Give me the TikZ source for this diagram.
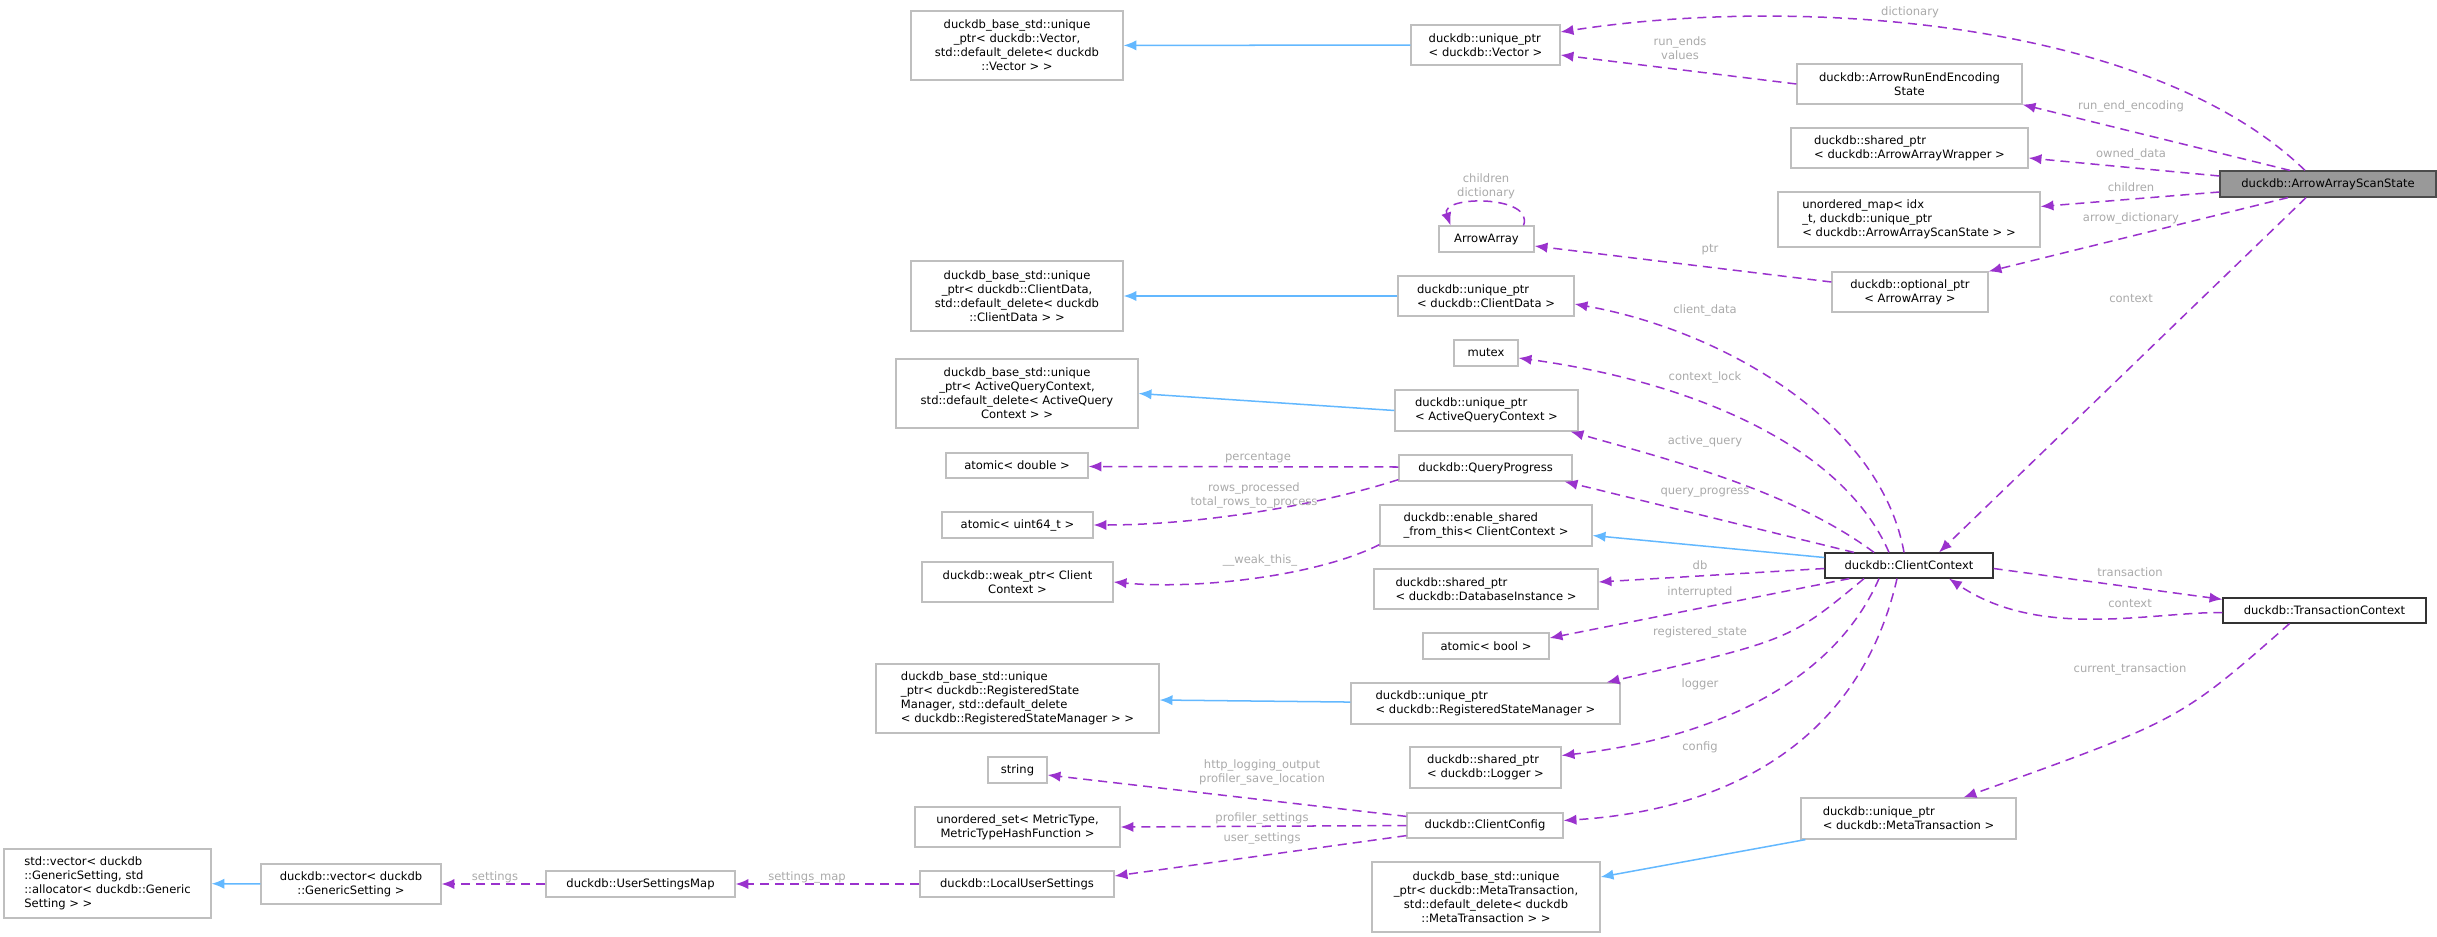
\documentclass[tikz,border=0pt]{standalone}
\usepackage{fontspec}
\setmainfont{DejaVu Sans}
\usetikzlibrary{arrows.meta}
\usetikzlibrary{calc}
\usetikzlibrary{positioning}

\begin{document}
\begin{tikzpicture}[x=0.035cm,y=-0.035cm,
    box/.style={draw=edgegray,fill=white,line width=1.2pt,inner sep=1pt,
      font=\fontsize{11.5}{14}\selectfont,align=center},
    sz/.style 2 args={minimum width=#1*0.035cm,minimum height=#2*0.035cm},
    member/.style={draw=mpurple,line width=1.5pt,dash pattern=on 9pt off 6pt,
      -{Latex[length=4.5mm,width=3.6mm]}},
    inherit/.style={draw=lblue,line width=1.5pt,-{Latex[length=4.5mm,width=3.6mm]}},
    lbl/.style={text=lgray,font=\fontsize{11.5}{14}\selectfont,align=center}]

\definecolor{edgegray}{RGB}{191,191,191}
\definecolor{mpurple}{RGB}{154,50,205}
\definecolor{lblue}{RGB}{99,184,255}
\definecolor{lgray}{RGB}{170,170,170}
\definecolor{sgray}{RGB}{153,153,153}

\useasboundingbox (0,0) rectangle (2437,937);

% right column
\node[box,sz={216}{26},fill=sgray,draw=black!70] (ass) at (2328,184) {duckdb::ArrowArrayScanState};
\node[box,sz={225}{40}] (ree) at (1909.5,84) {duckdb::ArrowRunEndEncoding\\State};
\node[box,sz={237}{40},align=left] (aaw) at (1909.5,148) {duckdb::shared\_ptr\\< duckdb::ArrowArrayWrapper >};
\node[box,sz={262}{55},align=left] (umap) at (1909,219.5) {unordered\_map< idx\\\_t, duckdb::unique\_ptr\\< duckdb::ArrowArrayScanState > >};
\node[box,sz={156}{40}] (optaa) at (1910,292) {duckdb::optional\_ptr\\< ArrowArray >};
\node[box,sz={168}{25},draw=black!80] (cc) at (1909,565.5) {duckdb::ClientContext};
\node[box,sz={203}{25},draw=black!80] (tc) at (2324.5,610.5) {duckdb::TransactionContext};
\node[box,sz={215}{41},align=left] (uptrmt) at (1908.5,818.5) {duckdb::unique\_ptr\\< duckdb::MetaTransaction >};

% middle column
\node[box,sz={149}{40},align=left] (uptrvec) at (1485.5,45) {duckdb::unique\_ptr\\< duckdb::Vector >};
\node[box,sz={95}{26}] (aa) at (1486.5,239) {ArrowArray};
\node[box,sz={176}{40},align=left] (uptrcd) at (1486,296) {duckdb::unique\_ptr\\< duckdb::ClientData >};
\node[box,sz={64}{26}] (mutex) at (1486,353) {mutex};
\node[box,sz={183}{41},align=left] (uptraqc) at (1486.5,410.5) {duckdb::unique\_ptr\\< ActiveQueryContext >};
\node[box,sz={173}{26}] (qp) at (1485.5,468) {duckdb::QueryProgress};
\node[box,sz={212}{41},align=left] (enshared) at (1486,525.5) {duckdb::enable\_shared\\\_from\_this< ClientContext >};
\node[box,sz={224}{40},align=left] (shdb) at (1486,589) {duckdb::shared\_ptr\\< duckdb::DatabaseInstance >};
\node[box,sz={126}{26}] (abool) at (1486,646) {atomic< bool >};
\node[box,sz={269}{41},align=left] (uptrrsm) at (1485.5,703.5) {duckdb::unique\_ptr\\< duckdb::RegisteredStateManager >};
\node[box,sz={151}{41},align=left] (shlog) at (1485.5,767.5) {duckdb::shared\_ptr\\< duckdb::Logger >};
\node[box,sz={156}{25}] (ccfg) at (1485,825.5) {duckdb::ClientConfig};
\node[box,sz={228}{70}] (basemt) at (1486,897) {duckdb\_base\_std::unique\\\_ptr< duckdb::MetaTransaction,\\std::default\_delete< duckdb\\::MetaTransaction > >};

% left column
\node[box,sz={212}{69}] (basevec) at (1017,45.5) {duckdb\_base\_std::unique\\\_ptr< duckdb::Vector,\\ std::default\_delete< duckdb\\::Vector > >};
\node[box,sz={212}{70}] (basecd) at (1017,296) {duckdb\_base\_std::unique\\\_ptr< duckdb::ClientData,\\ std::default\_delete< duckdb\\::ClientData > >};
\node[box,sz={242}{69}] (baseaqc) at (1017,393.5) {duckdb\_base\_std::unique\\\_ptr< ActiveQueryContext,\\ std::default\_delete< ActiveQuery\\Context > >};
\node[box,sz={142}{25}] (adouble) at (1017,465.5) {atomic< double >};
\node[box,sz={151}{26}] (au64) at (1017.5,525) {atomic< uint64\_t >};
\node[box,sz={191}{40}] (weak) at (1017.5,582) {duckdb::weak\_ptr< Client\\Context >};
\node[box,sz={283}{69},align=left] (basersm) at (1017.5,698.5) {duckdb\_base\_std::unique\\\_ptr< duckdb::RegisteredState\\Manager, std::default\_delete\\< duckdb::RegisteredStateManager > >};
\node[box,sz={59}{26}] (str) at (1017.5,770) {string};
\node[box,sz={205}{40}] (uset) at (1017.5,827) {unordered\_set< MetricType,\\ MetricTypeHashFunction >};
\node[box,sz={194}{26}] (lus) at (1017,884) {duckdb::LocalUserSettings};
\node[box,sz={189}{26}] (usm) at (640.5,884) {duckdb::UserSettingsMap};
\node[box,sz={180}{40}] (vecgs) at (351,884) {duckdb::vector< duckdb\\::GenericSetting >};
\node[box,sz={207}{69},align=left] (stdvec) at (107.5,883.5) {std::vector< duckdb\\::GenericSetting, std\\::allocator< duckdb::Generic\\Setting > >};

% inheritance
\draw[inherit] (uptrvec) -- (basevec);
\draw[inherit] (uptrcd) -- (basecd);
\draw[inherit] (uptraqc.west) -- (baseaqc.east);
\draw[inherit] ($(cc.west)+(0,-8)$) -- ($(enshared.east)+(0,10)$);
\draw[inherit] (uptrrsm) -- (basersm);
\draw[inherit] ($(uptrmt.south west)+(5,0)$) -- ($(basemt.east)+(0,-20)$);
\draw[inherit] (vecgs) -- (stdvec);

% members of ArrowArrayScanState
\draw[member] ($(ass.north)+(-23,0)$) .. controls (2150,20) and (1800,-5) .. ($(uptrvec.east)+(0,-13)$)
  node[lbl] at (1910,12) {dictionary};
\draw[member] (ree.west) -- ($(uptrvec.east)+(0,10)$)
  node[lbl] at (1680,48) {run\_ends\\values};
\draw[member] ($(ass.north)+(-38,0)$) -- (ree.south east)
  node[lbl] at (2131,106) {run\_end\_encoding};
\draw[member] ($(ass.west)+(0,-8)$) -- ($(aaw.east)+(0,10)$)
  node[lbl] at (2131,154) {owned\_data};
\draw[member] ($(ass.west)+(0,8)$) -- ($(umap.east)+(0,-13)$)
  node[lbl] at (2131,187) {children};
\draw[member] ($(ass.south)+(-40,0)$) -- (optaa.north east)
  node[lbl] at (2131,218) {arrow\_dictionary};
\draw[member] ($(ass.south)+(-22,0)$) -- ($(cc.north)+(30,0)$)
  node[lbl] at (2131,299) {context};
\draw[member] ($(aa.north)+(37,0)$) .. controls (1535,195) and (1440,195) .. ($(aa.north)+(-36,0)$)
  node[lbl] at (1486,186) {children\\dictionary};
\draw[member] ($(optaa.west)+(0,-10)$) -- ($(aa.east)+(0,7)$)
  node[lbl] at (1710,250) {ptr};

% members of ClientContext
\draw[member] ($(cc.north)+(-5,0)$) .. controls (1880,420) and (1720,330) .. ($(uptrcd.east)+(0,8)$)
  node[lbl] at (1705,310) {client\_data};
\draw[member] ($(cc.north)+(-20,0)$) .. controls (1840,440) and (1680,380) .. ($(mutex.east)+(0,5)$)
  node[lbl] at (1705,377) {context\_lock};
\draw[member] ($(cc.north)+(-35,0)$) .. controls (1790,490) and (1670,460) .. ($(uptraqc.south east)+(-8,0)$)
  node[lbl] at (1705,441) {active\_query};
\draw[member] ($(cc.north)+(-55,0)$) -- ($(qp.south east)+(-8,0)$)
  node[lbl] at (1705,493) {query\_progress};
\draw[member] ($(cc.west)+(0,3)$) -- ($(shdb.east)+(0,-7)$)
  node[lbl] at (1700,565) {db};
\draw[member] ($(cc.south west)+(25,0)$) -- ($(abool.east)+(0,-8)$)
  node[lbl] at (1700,592) {interrupted};
\draw[member] ($(cc.south)+(-45,0)$) .. controls (1790,640) .. ($(uptrrsm.north east)+(-14,0)$)
  node[lbl] at (1700,632) {registered\_state};
\draw[member] ($(cc.south)+(-30,0)$) .. controls (1830,690) and (1700,740) .. ($(shlog.east)+(0,-12)$)
  node[lbl] at (1700,684) {logger};
\draw[member] ($(cc.south)+(-12,0)$) .. controls (1860,740) and (1730,810) .. ($(ccfg.east)+(0,-5)$)
  node[lbl] at (1700,747) {config};
\draw[member] ($(cc.east)+(0,3)$) -- ($(tc.north west)+(0,2)$)
  node[lbl] at (2130,572) {transaction};
\draw[member] ($(tc.west)+(0,2)$) .. controls (2150,612) and (2040,640) .. ($(cc.south)+(40,0)$)
  node[lbl] at (2130,604) {context};
\draw[member] ($(tc.south)+(-35,0)$) .. controls (2180,720) .. ($(uptrmt.north)+(55,0)$)
  node[lbl] at (2130,669) {current\_transaction};

% QueryProgress, enable_shared and ClientConfig
\draw[member] ($(qp.west)+(0,-1)$) -- ($(adouble.east)+(0,1)$)
  node[lbl] at (1258,458) {percentage};
\draw[member] ($(qp.south west)+(0,-2)$) .. controls (1320,505) and (1200,525) .. (au64.east)
  node[lbl] at (1254,495) {rows\_processed\\total\_rows\_to\_process};
\draw[member] ($(enshared.south west)+(0,-2)$) .. controls (1320,575) and (1200,590) .. (weak.east)
  node[lbl] at (1260,560) {\_\_weak\_this\_};
\draw[member] ($(ccfg.north west)+(0,4)$) -- ($(str.east)+(0,5)$)
  node[lbl] at (1262,772) {http\_logging\_output\\profiler\_save\_location};
\draw[member] (ccfg.west) -- (uset.east)
  node[lbl] at (1262,818) {profiler\_settings};
\draw[member] ($(ccfg.south west)+(0,-3)$) -- ($(lus.east)+(0,-8)$)
  node[lbl] at (1262,838) {user\_settings};
\draw[member] (lus) -- (usm)
  node[lbl] at (807,877) {settings\_map};
\draw[member] (usm) -- (vecgs)
  node[lbl] at (495,877) {settings};

\end{tikzpicture}
\end{document}
